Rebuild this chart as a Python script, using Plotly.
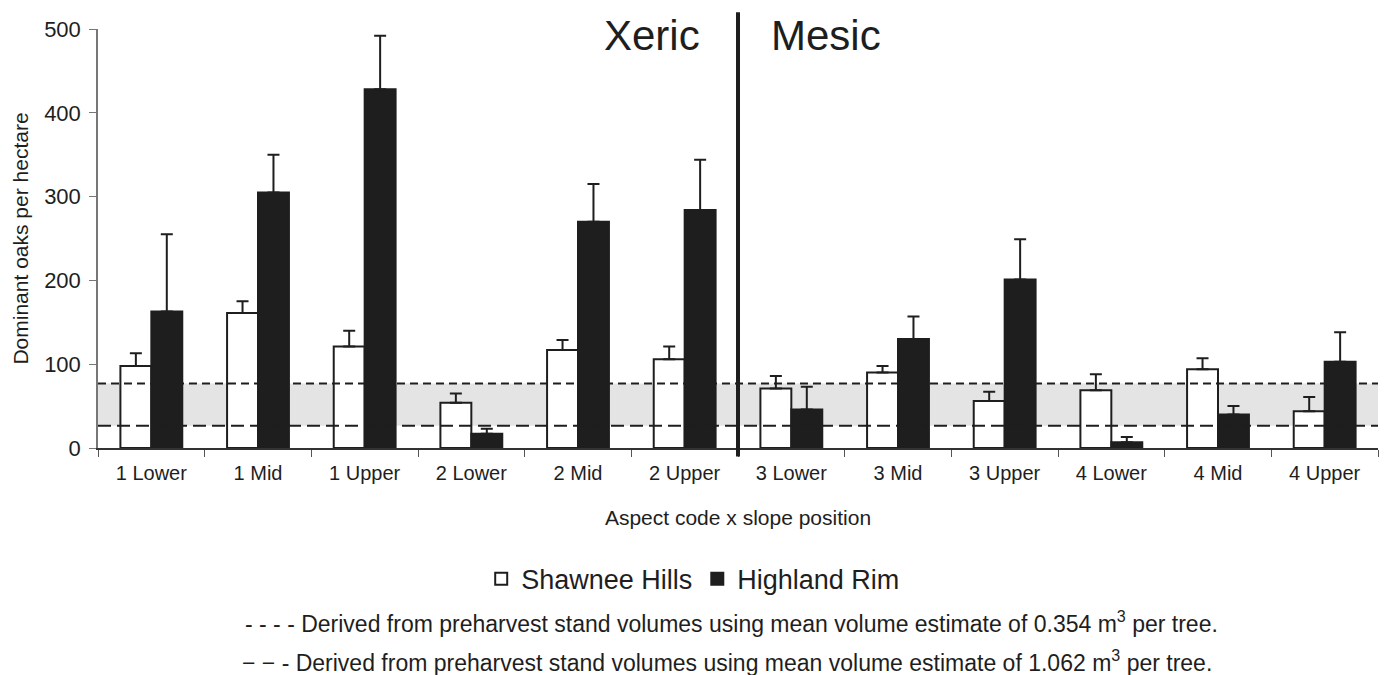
import plotly.graph_objects as go

categories = ["1 Lower", "1 Mid", "1 Upper", "2 Lower", "2 Mid", "2 Upper",
              "3 Lower", "3 Mid", "3 Upper", "4 Lower", "4 Mid", "4 Upper"]
shawnee = [98, 161, 121, 54, 117, 106, 71, 90, 56, 69, 94, 44]
shawnee_err = [15, 14, 19, 11, 12, 15, 15, 8, 11, 19, 13, 17]
highland = [163, 305, 428, 17, 270, 284, 46, 130, 201, 7, 40, 103]
highland_err = [92, 45, 64, 6, 45, 60, 27, 27, 48, 6, 10, 35]
band_low = 26.5    # 1.062 m3 per tree
band_high = 77     # 0.354 m3 per tree
y_ticks = [0, 100, 200, 300, 400, 500]
first_mesic = "3 Lower"

INK = "#1e1e1e"
FONT = "Liberation Sans, Arial, Helvetica, sans-serif"

fig = go.Figure()
fig.add_trace(go.Bar(
    x=categories, y=shawnee, name="Shawnee Hills",
    marker=dict(color="white", line=dict(color=INK, width=2)),
    error_y=dict(type="data", array=shawnee_err, arrayminus=[0] * len(shawnee),
                 symmetric=False, color=INK, thickness=2, width=6),
))
fig.add_trace(go.Bar(
    x=categories, y=highland, name="Highland Rim",
    marker=dict(color=INK, line=dict(color=INK, width=2)),
    error_y=dict(type="data", array=highland_err, arrayminus=[0] * len(highland),
                 symmetric=False, color=INK, thickness=2, width=6),
))

# shaded band and dashed reference lines
fig.add_shape(type="rect", xref="x domain", yref="y", x0=0, x1=1,
              y0=band_low, y1=band_high, fillcolor="#e4e4e4",
              line=dict(width=0), layer="below")
fig.add_shape(type="line", xref="x domain", yref="y", x0=0, x1=1,
              y0=band_high, y1=band_high, layer="above",
              line=dict(color=INK, width=2, dash="8px,5px"))
fig.add_shape(type="line", xref="x domain", yref="y", x0=0, x1=1,
              y0=band_low, y1=band_low, layer="above",
              line=dict(color=INK, width=2, dash="13px,6px"))

# Xeric / Mesic divider
div_x = categories.index(first_mesic) / len(categories)
fig.add_shape(type="line", xref="x domain", yref="paper", x0=div_x, x1=div_x,
              y0=-0.02, y1=1.04, line=dict(color=INK, width=4), layer="above")
fig.add_annotation(xref="x domain", yref="paper", x=div_x, y=0.985,
                   xanchor="right", yanchor="middle", xshift=-36,
                   text="Xeric", showarrow=False,
                   font=dict(size=42, color=INK, family=FONT))
fig.add_annotation(xref="x domain", yref="paper", x=div_x, y=0.985,
                   xanchor="left", yanchor="middle", xshift=31,
                   text="Mesic", showarrow=False,
                   font=dict(size=42, color=INK, family=FONT))

# line descriptions
fig.add_annotation(xref="paper", yref="paper", x=0.1133, y=-0.415,
                   xanchor="left", yanchor="middle", showarrow=False,
                   text="- - - - Derived from preharvest stand volumes using mean volume estimate of 0.354 m<sup>3</sup> per tree.",
                   font=dict(size=23, color=INK, family=FONT))
fig.add_annotation(xref="paper", yref="paper", x=0.1113, y=-0.508,
                   xanchor="left", yanchor="middle", showarrow=False,
                   text="\u2212 \u2212 - Derived from preharvest stand volumes using mean volume estimate of 1.062 m<sup>3</sup> per tree.",
                   font=dict(size=23, color=INK, family=FONT))

fig.update_layout(
    width=1384, height=675,
    margin=dict(l=98, r=6, t=29, b=227),
    plot_bgcolor="white", paper_bgcolor="white",
    barmode="group", bargap=0.42, bargroupgap=0,
    font=dict(family=FONT, color=INK),
    showlegend=True,
    legend=dict(orientation="h", x=0.465, xanchor="center", y=-0.313,
                yanchor="middle", font=dict(size=27, color=INK, family=FONT),
                bgcolor="rgba(0,0,0,0)"),
    xaxis=dict(
        type="category", categoryorder="array", categoryarray=categories,
        showline=True, linecolor="#333333", linewidth=1.5,
        ticks="outside", tickson="boundaries", ticklen=7, tickcolor="#555555",
        tickfont=dict(size=20, color=INK, family=FONT),
        ticklabelstandoff=6,
        showgrid=False, zeroline=False,
        title=dict(text="Aspect code x slope position", standoff=28,
                   font=dict(size=21, color=INK, family=FONT)),
    ),
    yaxis=dict(
        range=[0, 500], tickvals=y_ticks,
        showline=True, linecolor="#777777", linewidth=1.5,
        ticks="outside", ticklen=7, tickcolor="#777777",
        tickfont=dict(size=22, color=INK, family=FONT),
        ticklabelstandoff=4,
        showgrid=False, zeroline=False,
        title=dict(text="Dominant oaks per hectare", standoff=10,
                   font=dict(size=21, color=INK, family=FONT)),
    ),
)

fig.write_html("out.html")
